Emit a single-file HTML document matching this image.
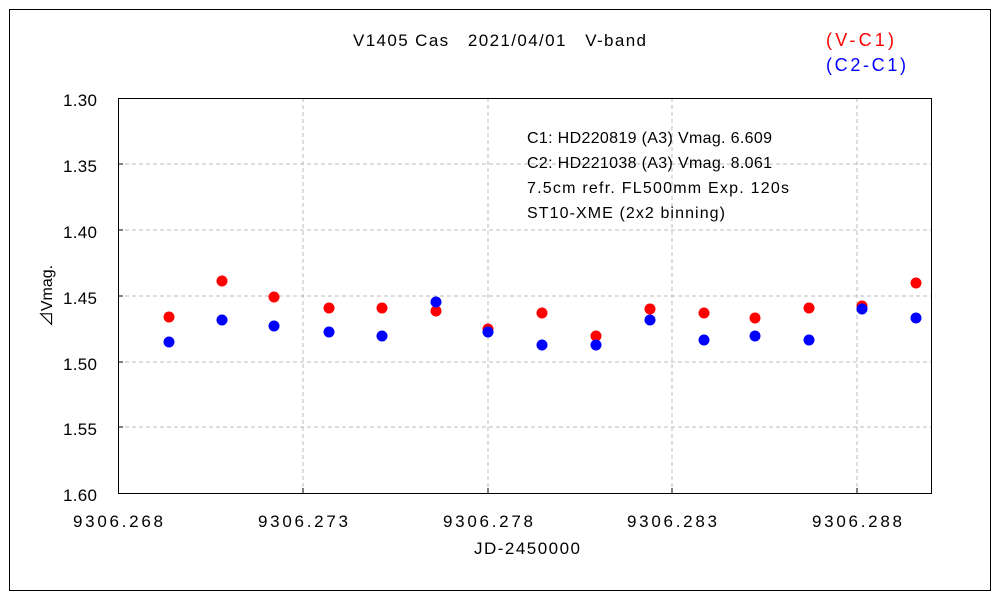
<!DOCTYPE html>
<html><head><meta charset="utf-8"><style>body{margin:0;background:#fff}svg{display:block}text{font-family:"Liberation Sans","Noto Sans CJK JP",sans-serif;fill:#000}</style></head><body>
<svg width="1000" height="600" xmlns="http://www.w3.org/2000/svg">
<rect x="9.5" y="9.5" width="981" height="581" fill="#fff" stroke="#000"/>
<g stroke="#bbb" stroke-dasharray="4,3">
<line x1="118" y1="164" x2="932" y2="164"/><line x1="118" y1="230" x2="932" y2="230"/><line x1="118" y1="296" x2="932" y2="296"/><line x1="118" y1="362" x2="932" y2="362"/><line x1="118" y1="427" x2="932" y2="427"/>
<line x1="303" y1="98" x2="303" y2="493"/><line x1="488" y1="98" x2="488" y2="493"/><line x1="672" y1="98" x2="672" y2="493"/><line x1="857" y1="98" x2="857" y2="493"/>
</g>
<rect x="118.5" y="98.5" width="813" height="395" fill="none" stroke="#000"/>
<g stroke="#000">
<line x1="118" y1="164" x2="123" y2="164"/><line x1="118" y1="230" x2="123" y2="230"/><line x1="118" y1="296" x2="123" y2="296"/><line x1="118" y1="362" x2="123" y2="362"/><line x1="118" y1="427" x2="123" y2="427"/>
<line x1="303" y1="493" x2="303" y2="488"/><line x1="488" y1="493" x2="488" y2="488"/><line x1="672" y1="493" x2="672" y2="488"/><line x1="857" y1="493" x2="857" y2="488"/>
</g>
<g font-size="17" text-anchor="end">
<text x="97" y="106" textLength="34">1.30</text><text x="97" y="172" textLength="34">1.35</text><text x="97" y="238" textLength="34">1.40</text><text x="97" y="304" textLength="34">1.45</text><text x="97" y="370" textLength="34">1.50</text><text x="97" y="435" textLength="34">1.55</text><text x="97" y="501" textLength="34">1.60</text>
</g>
<g font-size="17">
<text x="73" y="527" textLength="90">9306.268</text><text x="258" y="527" textLength="90">9306.273</text><text x="443" y="527" textLength="90">9306.278</text><text x="627" y="527" textLength="90">9306.283</text><text x="812" y="527" textLength="90">9306.288</text>
<text x="474" y="554" textLength="106">JD-2450000</text>
<text x="353" y="46" textLength="293">V1405 Cas　2021/04/01　V-band</text>
</g>
<text x="52" y="296" font-size="16" text-anchor="middle" transform="rotate(-90 52 296)">⊿Vmag.</text>
<text x="826" y="46" font-size="18" textLength="68" style="fill:#f00">(V-C1)</text>
<text x="826" y="71" font-size="18" textLength="80" style="fill:#00f">(C2-C1)</text>
<g font-size="16">
<text x="527" y="143" textLength="245">C1: HD220819 (A3) Vmag. 6.609</text>
<text x="527" y="168" textLength="245">C2: HD221038 (A3) Vmag. 8.061</text>
<text x="527" y="193" textLength="262">7.5cm refr. FL500mm  Exp. 120s</text>
<text x="527" y="218" textLength="198">ST10-XME (2x2 binning)</text>
</g>
<g fill="#f00">
<circle cx="169" cy="317" r="5.5"/><circle cx="222" cy="281" r="5.5"/><circle cx="274" cy="297" r="5.5"/><circle cx="329" cy="308" r="5.5"/><circle cx="382" cy="308" r="5.5"/><circle cx="436" cy="311" r="5.5"/><circle cx="488" cy="329" r="5.5"/><circle cx="542" cy="313" r="5.5"/><circle cx="596" cy="336" r="5.5"/><circle cx="650" cy="309" r="5.5"/><circle cx="704" cy="313" r="5.5"/><circle cx="755" cy="318" r="5.5"/><circle cx="809" cy="308" r="5.5"/><circle cx="862" cy="306" r="5.5"/><circle cx="916" cy="283" r="5.5"/>
</g>
<g fill="#00f">
<circle cx="169" cy="342" r="5.5"/><circle cx="222" cy="320" r="5.5"/><circle cx="274" cy="326" r="5.5"/><circle cx="329" cy="332" r="5.5"/><circle cx="382" cy="336" r="5.5"/><circle cx="436" cy="302" r="5.5"/><circle cx="488" cy="332" r="5.5"/><circle cx="542" cy="345" r="5.5"/><circle cx="596" cy="345" r="5.5"/><circle cx="650" cy="320" r="5.5"/><circle cx="704" cy="340" r="5.5"/><circle cx="755" cy="336" r="5.5"/><circle cx="809" cy="340" r="5.5"/><circle cx="862" cy="309" r="5.5"/><circle cx="916" cy="318" r="5.5"/>
</g>
</svg>
</body></html>
